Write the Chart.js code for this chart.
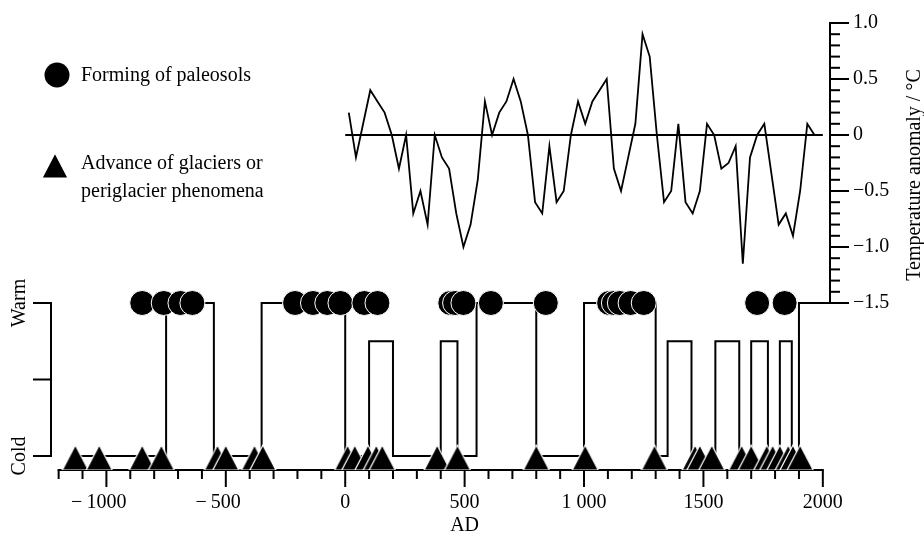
<!DOCTYPE html>
<html>
<head>
<meta charset="utf-8">
<title>Paleosols, glacier advances and temperature anomaly</title>
<script src="https://cdn.jsdelivr.net/npm/chart.js@4.4.1/dist/chart.umd.min.js"></script>
<style>
    html, body { margin: 0; padding: 0; background: #fff; }
    #chart { display: block; }
</style>
</head>
<body>
<canvas id="chart" width="924" height="536"></canvas>
<script>
// ==================== DATA ====================
// Temperature anomaly / °C, 30-year means (AD)
const tempYears = [
    15, 45, 75, 105, 135, 165, 195, 225, 255, 285, 315, 345, 375, 405, 435, 465, 495,
    525, 555, 585, 615, 645, 675, 705, 735, 765, 795, 825, 855, 885, 915, 945, 975,
    1005, 1035, 1065, 1095, 1125, 1155, 1185, 1215, 1245, 1275, 1305, 1335, 1365, 1395,
    1425, 1455, 1485, 1515, 1545, 1575, 1605, 1635, 1665, 1695, 1725, 1755, 1785, 1815,
    1845, 1875, 1905, 1935, 1965
];
const tempValues = [
    0.2, -0.2, 0.1, 0.4, 0.3, 0.2, 0.0, -0.3, 0.0, -0.7, -0.5, -0.8, 0.0, -0.2, -0.3, -0.7, -1.0,
    -0.8, -0.4, 0.3, 0.0, 0.2, 0.3, 0.5, 0.3, 0.0, -0.6, -0.7, -0.1, -0.6, -0.5, 0.0, 0.3,
    0.1, 0.3, 0.4, 0.5, -0.3, -0.5, -0.2, 0.1, 0.9, 0.7, 0.0, -0.6, -0.5, 0.1,
    -0.6, -0.7, -0.5, 0.1, 0.0, -0.3, -0.25, -0.1, -1.15, -0.2, 0.0, 0.1, -0.35, -0.8,
    -0.7, -0.9, -0.5, 0.1, 0.0
];
const zeroLineYears = [0, 2000];

// Forming of paleosols (drawn on the Warm level)
const paleosolYears = [
    -850, -760, -690, -640, -210, -135, -75, -20, 80, 135,
    440, 460, 495, 610, 840, 1105, 1125, 1150, 1195, 1250, 1725, 1840
];
// Advance of glaciers or periglacier phenomena (drawn on the Cold level)
const glacierYears = [
    -1130, -1030, -850, -770, -535, -500, -380, -345, 10, 40, 95, 130, 155,
    385, 470, 800, 1005, 1295, 1465, 1485, 1535, 1660, 1700, 1765, 1790, 1820,
    1855, 1875, 1905
];

// Climate phases: year a phase begins and its level (0 cold, 2 warm, 1.5 short warm spell)
const phaseYears = [
    -1130, -750, -550, -350, 0, 100, 200, 400, 470, 550, 800, 1000,
    1300, 1350, 1450, 1550, 1650, 1700, 1770, 1820, 1870, 1900, 2030
];
const phaseLevels = [
    0, 2, 0, 2, 0, 1.5, 0, 1.5, 0, 2, 0, 2,
    0, 1.5, 0, 1.5, 0, 1.5, 0, 1.5, 0, 2, 2
];
const COLD = 0, WARM = 2;

// Axis ticks
const climateTicks = [0, 1, 2];
const climateLabels = ['Cold', '', 'Warm'];
const yearTicks = [-1000, -500, 0, 500, 1000, 1500, 2000];
const yearTickLabels = ['\u22121000', '\u2212500', '0', '500', '1 000', '1500', '2000'];
const tempTicks = [1.0, 0.5, 0, -0.5, -1.0, -1.5];
const tempTickLabels = ['1.0', '0.5', '0', '\u22120.5', '\u22121.0', '\u22121.5'];

const FONT = '"Liberation Serif", "Times New Roman", serif';

// ==================== MARKERS ====================
function makeTriangle() {
    const c = document.createElement('canvas');
    c.width = 28;
    c.height = 30;
    const g = c.getContext('2d');
    g.beginPath();
    g.moveTo(14, 4);
    g.lineTo(27, 29);
    g.lineTo(1, 29);
    g.closePath();
    g.fillStyle = '#000';
    g.fill();
    g.strokeStyle = '#fff';
    g.lineWidth = 1.2;
    g.stroke();
    return c;
}
const triangleImg = makeTriangle();

// ==================== AXES + TEXT ====================
function seg(ctx, x1, y1, x2, y2) {
    ctx.beginPath();
    ctx.moveTo(x1, y1);
    ctx.lineTo(x2, y2);
    ctx.stroke();
}

const axesPlugin = {
    id: 'paleoAxes',
    beforeDatasetsDraw(chart) {
        const { ctx, chartArea, scales } = chart;
        const x = scales.x, yT = scales.yT, yB = scales.yB;
        ctx.save();
        ctx.strokeStyle = '#000';
        ctx.lineWidth = 2;

        // time axis along the bottom
        const yb = chartArea.bottom;
        seg(ctx, x.getPixelForValue(-1200) - 1, yb, x.getPixelForValue(2000) + 1, yb);
        for (let yr = -1200; yr <= 2000; yr += 100) {
            const px = x.getPixelForValue(yr);
            seg(ctx, px, yb, px, yb + (yr % 500 === 0 ? 17 : 9));
        }

        // climate axis (Cold - Warm) on the left
        const xl = chartArea.left;
        seg(ctx, xl, yB.getPixelForValue(WARM) - 1, xl, yB.getPixelForValue(COLD) + 1);
        climateTicks.forEach(v => {
            const py = yB.getPixelForValue(v);
            seg(ctx, xl - 18, py, xl, py);
        });

        // temperature axis on the right
        const xr = chartArea.right;
        seg(ctx, xr, yT.getPixelForValue(1.0) - 1, xr, yT.getPixelForValue(-1.5) + 1);
        for (let i = 0; i <= 25; i++) {
            const v = 1.0 - i * 0.1;
            const py = yT.getPixelForValue(v);
            seg(ctx, xr, py, xr + (i % 5 === 0 ? 19 : 10), py);
        }
        ctx.restore();
    },
    afterDraw(chart) {
        const { ctx, chartArea, scales } = chart;
        const x = scales.x, yT = scales.yT, yB = scales.yB;
        ctx.save();
        ctx.fillStyle = '#000';
        ctx.font = '20px ' + FONT;
        ctx.textBaseline = 'middle';

        // year labels: digits centred on the tick, minus sign hanging left
        yearTicks.forEach((yr, i) => {
            const px = x.getPixelForValue(yr);
            let txt = yearTickLabels[i];
            const neg = txt.charAt(0) === '\u2212';
            if (neg) txt = txt.slice(1);
            ctx.textAlign = 'center';
            ctx.fillText(txt, px, 503);
            if (neg) {
                ctx.textAlign = 'right';
                ctx.fillText('\u2212', px - ctx.measureText(txt).width / 2 - 4, 503);
            }
        });
        ctx.textAlign = 'center';
        ctx.fillText('AD', x.getPixelForValue(500), 526);

        // temperature labels
        ctx.textAlign = 'left';
        tempTicks.forEach((v, i) => {
            ctx.fillText(tempTickLabels[i], chartArea.right + 23, yT.getPixelForValue(v));
        });

        // rotated titles
        const rotated = (txt, cx, cy) => {
            ctx.save();
            ctx.translate(cx, cy);
            ctx.rotate(-Math.PI / 2);
            ctx.textAlign = 'center';
            ctx.fillText(txt, 0, 0);
            ctx.restore();
        };
        rotated('Temperature anomaly / \u00b0C', 915, 175);
        climateTicks.forEach((v, i) => {
            if (climateLabels[i]) rotated(climateLabels[i], 20, yB.getPixelForValue(v));
        });

        // legend
        ctx.beginPath();
        ctx.arc(57, 75, 12.5, 0, Math.PI * 2);
        ctx.fill();
        ctx.drawImage(triangleImg, 55 - 14, 164 - 15);
        ctx.textAlign = 'left';
        ctx.fillText('Forming of paleosols', 81, 76);
        ctx.fillText('Advance of glaciers or', 81, 164);
        ctx.fillText('periglacier phenomena', 81, 192);
        ctx.restore();
    }
};

// ==================== CHART ====================
const ctx = document.getElementById('chart').getContext('2d');

new Chart(ctx, {
    type: 'line',
    data: {
        datasets: [
            {
                label: 'Forming of paleosols',
                data: paleosolYears.map(yr => ({ x: yr, y: WARM })),
                yAxisID: 'yB',
                showLine: false,
                pointStyle: 'circle',
                pointRadius: 12.5,
                pointBackgroundColor: '#000',
                pointBorderColor: '#fff',
                pointBorderWidth: 1,
            },
            {
                label: 'Advance of glaciers or periglacier phenomena',
                data: glacierYears.map(yr => ({ x: yr, y: COLD })),
                yAxisID: 'yB',
                showLine: false,
                pointStyle: triangleImg,
                pointRadius: 13,
            },
            {
                label: 'Climate phases',
                data: phaseYears.map((yr, i) => ({ x: yr, y: phaseLevels[i] })),
                yAxisID: 'yB',
                stepped: 'before',
                borderColor: '#000',
                borderWidth: 2,
                pointRadius: 0,
                fill: false,
            },
            {
                label: 'Zero',
                data: zeroLineYears.map(yr => ({ x: yr, y: 0 })),
                yAxisID: 'yT',
                borderColor: '#000',
                borderWidth: 2,
                pointRadius: 0,
            },
            {
                label: 'Temperature anomaly',
                data: tempYears.map((yr, i) => ({ x: yr, y: tempValues[i] })),
                yAxisID: 'yT',
                borderColor: '#000',
                borderWidth: 1.8,
                pointRadius: 0,
                tension: 0,
            }
        ]
    },
    options: {
        responsive: false,
        animation: false,
        events: [],
        layout: { padding: { left: 51, right: 94, top: 23, bottom: 66 } },
        plugins: {
            legend: { display: false },
            tooltip: { enabled: false }
        },
        scales: {
            x: { type: 'linear', min: -1232, max: 2030, display: false },
            yT: { type: 'linear', min: -2.991, max: 1.0, display: false },
            yB: { type: 'linear', min: -0.183, max: 5.66, display: false }
        }
    },
    plugins: [axesPlugin]
});
</script>
</body>
</html>
